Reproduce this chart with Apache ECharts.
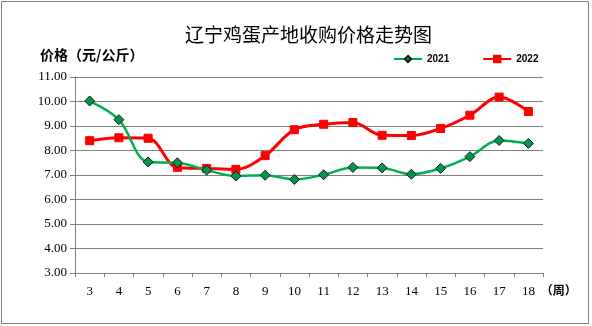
<!DOCTYPE html>
<html>
<head>
<meta charset="utf-8">
<script src="https://cdn.jsdelivr.net/npm/echarts@6/dist/echarts.min.js"></script>
<style>
  html, body { margin: 0; padding: 0; background: #fff; }
  #chart { width: 592px; height: 326px; }
</style>
</head>
<body>
<div id="chart"></div>
<script>
// Weekly egg purchase price at origin, Liaoning (yuan/kg)
const weeks = ['3', '4', '5', '6', '7', '8', '9', '10', '11', '12', '13', '14', '15', '16', '17', '18'];
const price2021 = [10.02, 9.26, 7.53, 7.50, 7.20, 6.96, 6.99, 6.82, 7.01, 7.31, 7.29, 7.03, 7.27, 7.75, 8.41, 8.29];
const price2022 = [8.40, 8.52, 8.50, 7.31, 7.27, 7.23, 7.79, 8.85, 9.07, 9.14, 8.62, 8.61, 8.90, 9.44, 10.18, 9.59];
const yTicks = { min: 3, max: 11, step: 1 };

const serifFont = '"Liberation Serif", "DejaVu Serif", serif';
const cjkFont = '"Noto Sans CJK SC", sans-serif';

const chart = echarts.init(document.getElementById('chart'), null, { renderer: 'canvas' });

chart.setOption({
  animation: false,
  backgroundColor: '#fff',
  title: {
    text: '辽宁鸡蛋产地收购价格走势图',
    left: 180,
    top: 20,
    textStyle: { fontFamily: cjkFont, fontSize: 19, fontWeight: 'normal', color: '#000' }
  },
  legend: {
    top: 49,
    left: 388,
    itemGap: 33,
    itemWidth: 28,
    itemHeight: 8,
    textStyle: { fontFamily: '"Liberation Sans", Arial, sans-serif', fontSize: 10, fontWeight: 'bold', color: '#000' },
    data: ['2021', '2022']
  },
  graphic: [
    {
      type: 'rect',
      shape: { x: 1.5, y: 1.5, width: 587, height: 322 },
      style: { fill: 'none', stroke: '#808080', lineWidth: 1 }
    },
    {
      type: 'text',
      left: 40,
      top: 48,
      style: { text: '价格（元/公斤）', font: 'bold 14px "Noto Sans CJK SC", sans-serif', fill: '#000' }
    }
  ],
  grid: { left: 75, right: 49, top: 77, bottom: 53 },
  xAxis: {
    type: 'category',
    data: weeks,
    boundaryGap: true,
    name: '（周）',
    nameLocation: 'end',
    nameGap: -4,
    nameTextStyle: { fontFamily: cjkFont, fontSize: 12, fontWeight: 'bold', color: '#000', verticalAlign: 'top', padding: [11, 0, 0, 0] },
    axisLine: { lineStyle: { color: '#808080', width: 1 } },
    axisTick: { show: true, length: 4, inside: false, alignWithLabel: false, lineStyle: { color: '#808080' } },
    axisLabel: { fontFamily: serifFont, fontSize: 13, color: '#000', margin: 12 },
    splitLine: { show: false }
  },
  yAxis: {
    type: 'value',
    min: yTicks.min,
    max: yTicks.max,
    interval: yTicks.step,
    axisLine: { show: true, lineStyle: { color: '#808080', width: 1 } },
    axisTick: { show: true, length: 5, lineStyle: { color: '#808080' } },
    axisLabel: {
      fontFamily: serifFont, fontSize: 13, color: '#000', margin: 8,
      formatter: v => v.toFixed(2)
    },
    splitLine: { show: true, lineStyle: { color: '#808080', width: 1 } }
  },
  series: [
    {
      name: '2021',
      type: 'line',
      data: price2021,
      smooth: 0.35,
      symbol: 'diamond',
      symbolSize: 10,
      lineStyle: { color: '#00B050', width: 2.5 },
      itemStyle: { color: '#00964B', borderColor: '#1a1a1a', borderWidth: 1 },
      z: 3
    },
    {
      name: '2022',
      type: 'line',
      data: price2022,
      smooth: 0.35,
      symbol: 'rect',
      symbolSize: 8,
      lineStyle: { color: '#FF0000', width: 3 },
      itemStyle: { color: '#FF0000', borderColor: '#FF0000', borderWidth: 1 },
      z: 2
    }
  ]
});
</script>
</body>
</html>
